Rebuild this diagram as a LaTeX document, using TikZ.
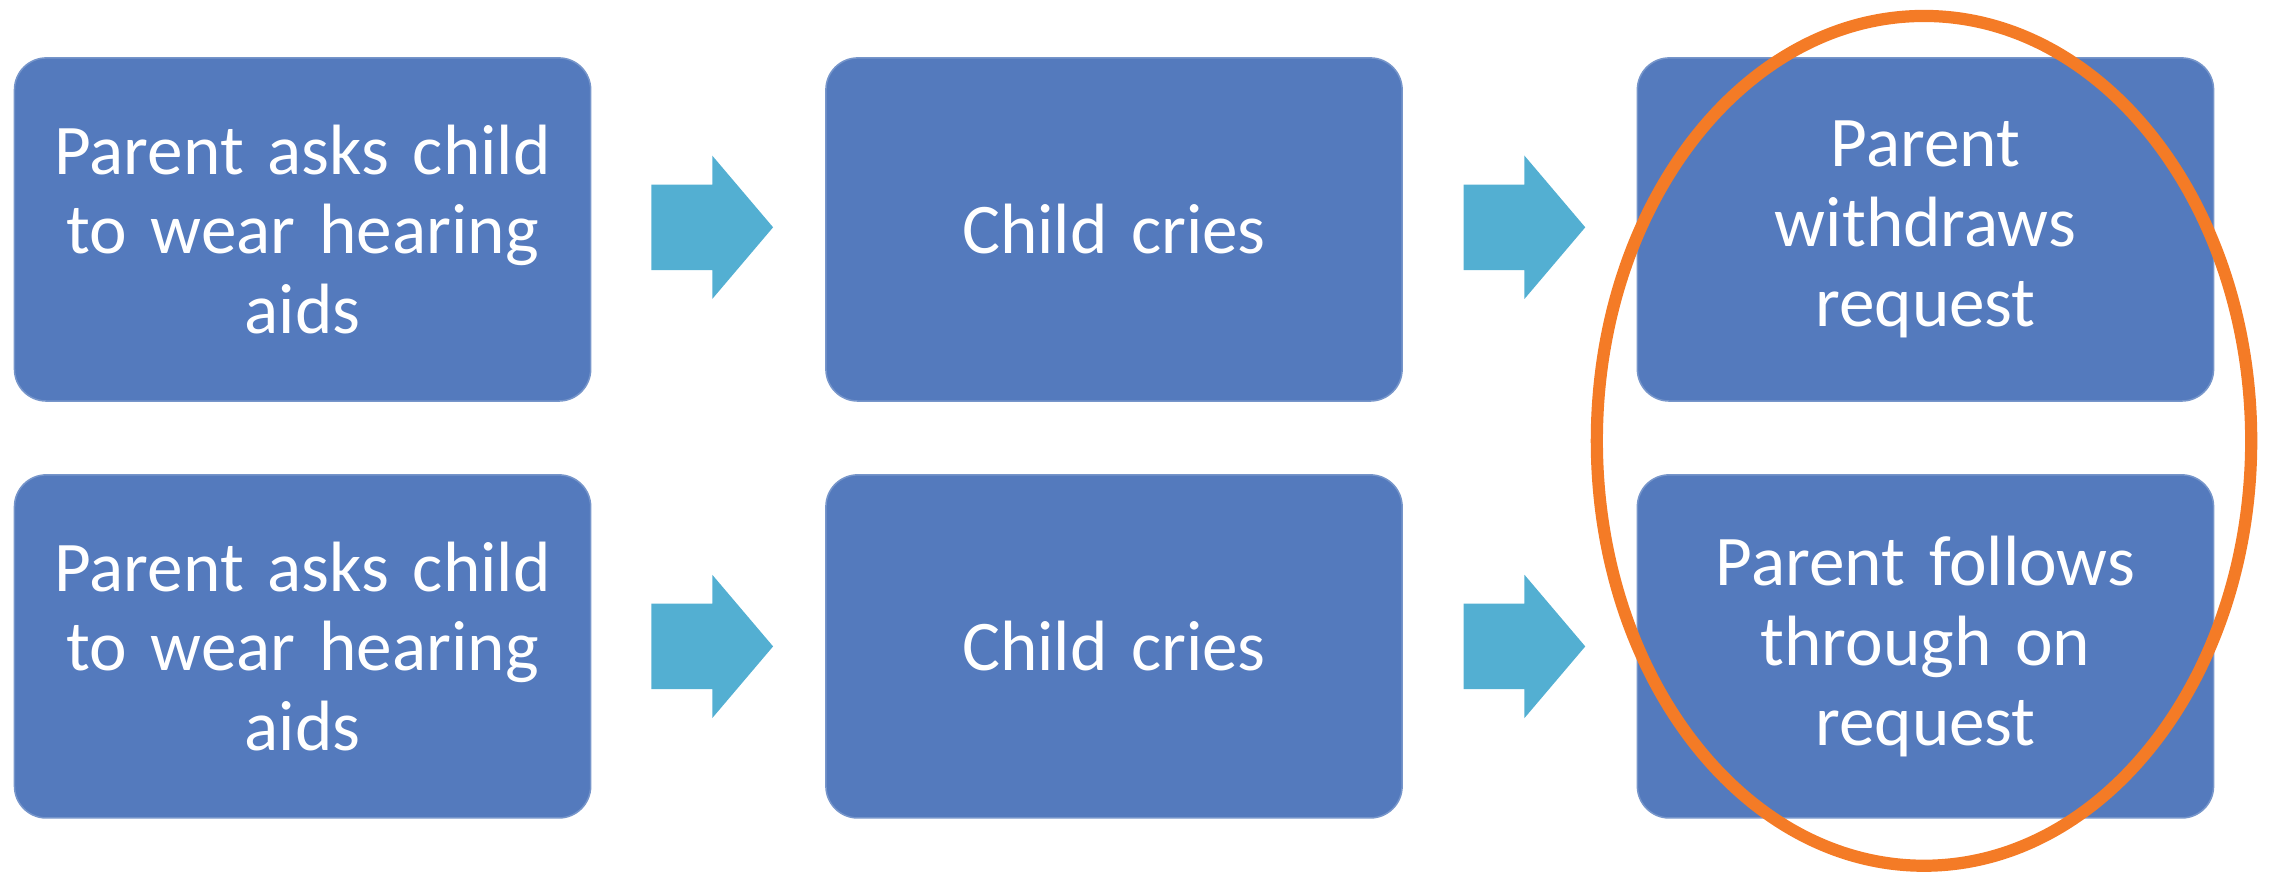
\documentclass[tikz,border=0pt]{standalone}
\usepackage{fontspec}
\setmainfont{Carlito}
\definecolor{boxblue}{HTML}{547ABD}
\definecolor{arrowblue}{HTML}{53AFD2}
\definecolor{ringorange}{HTML}{F47B26}
\tikzset{
  stepbox/.style={rectangle, rounded corners=0.22cm, fill=boxblue, draw=boxblue!80!white, line width=0.3pt,
    minimum width=3.98cm, minimum height=2.37cm, inner sep=0pt, text width=3.9cm, align=center,
    text=white, font=\fontsize{14}{15.7}\selectfont},
  blockarrow/.style={fill=arrowblue},
  ring/.style={draw=ringorange, line width=2.4pt}
}
\begin{document}
\begin{tikzpicture}
\useasboundingbox (0,0) rectangle (15.68,6.02);
\node[stepbox] (ask1) at (2.09,4.435){Parent asks child\\to wear hearing\\aids};
\node[stepbox] (cry1) at (7.695,4.435){Child cries};
\node[stepbox] (end1) at (13.30,4.435){Parent\\withdraws\\request};
\node[stepbox] (ask2) at (2.09,1.555){Parent asks child\\to wear hearing\\aids};
\node[stepbox] (cry2) at (7.695,1.555){Child cries};
\node[stepbox] (end2) at (13.30,1.555){Parent follows\\through on\\request};
\coordinate (arr1) at (4.50,4.45);
\coordinate (arr2) at (10.11,4.45);
\coordinate (arr3) at (4.50,1.555);
\coordinate (arr4) at (10.11,1.555);
\fill[blockarrow] (arr1) ++(0,0.295) -- ++(0.42,0) -- ++(0,0.2) -- ++(0.42,-0.495) -- ++(-0.42,-0.495) -- ++(0,0.2) -- ++(-0.42,0) -- cycle;
\fill[blockarrow] (arr2) ++(0,0.295) -- ++(0.42,0) -- ++(0,0.2) -- ++(0.42,-0.495) -- ++(-0.42,-0.495) -- ++(0,0.2) -- ++(-0.42,0) -- cycle;
\fill[blockarrow] (arr3) ++(0,0.295) -- ++(0.42,0) -- ++(0,0.2) -- ++(0.42,-0.495) -- ++(-0.42,-0.495) -- ++(0,0.2) -- ++(-0.42,0) -- cycle;
\fill[blockarrow] (arr4) ++(0,0.295) -- ++(0.42,0) -- ++(0,0.2) -- ++(0.42,-0.495) -- ++(-0.42,-0.495) -- ++(0,0.2) -- ++(-0.42,0) -- cycle;
\draw[ring] (13.29,2.975) ellipse [x radius=2.26, y radius=2.935];
\end{tikzpicture}
\end{document}
